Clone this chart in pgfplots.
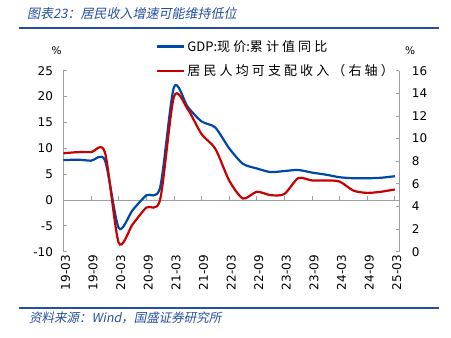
\documentclass[border=0pt]{standalone}
\usepackage{fontspec}
\setmainfont{DejaVu Sans}
\newfontfamily\cjk{Noto Sans CJK SC}
\newfontfamily\cjkit[FakeSlant=0.2]{Noto Sans CJK SC}
\newfontfamily\cjkls[LetterSpace=24]{Noto Sans CJK SC}
\usepackage{pgfplots}
\usepackage{pgfplotstable}
\pgfplotsset{compat=1.18}
\definecolor{gdpblue}{RGB}{0,72,168}
\definecolor{incred}{RGB}{200,0,0}
\definecolor{axgray}{RGB}{160,160,160}
\definecolor{hdblue}{RGB}{35,80,160}

\pgfplotstableread{
m gdp inc
0 7.7 8.7
3 7.8 8.8
6 7.6 8.8
9 7.7 8.8
12 -5.4 0.8
15 -2.0 2.4
18 0.9 3.9
21 2.4 4.6
24 21.8 13.7
27 18.0 12.6
30 15.2 10.4
33 14.0 9.1
36 10.0 6.3
39 7.0 4.7
42 6.1 5.3
45 5.4 5.0
48 5.6 5.1
51 5.8 6.5
54 5.3 6.3
57 4.9 6.3
60 4.4 6.2
63 4.2 5.4
66 4.2 5.2
69 4.3 5.3
72 4.6 5.5
}\data

\begin{document}
\begin{tikzpicture}[x=1pt,y=1pt]
\path[use as bounding box] (0,0) rectangle (451,338);
\node[anchor=west, text=hdblue, font=\cjkit\fontsize{13}{15}\selectfont, inner sep=0pt] at (27,324) {图表23：居民收入增速可能维持低位};
\draw[hdblue, line width=1.8pt] (19.3,310.3) -- (439.3,310.3);
\draw[hdblue, line width=1.8pt] (19.3,30) -- (439.3,30);
\node[anchor=west, text=hdblue, font=\cjkit\fontsize{12.5}{14}\selectfont, inner sep=0pt] at (29,20) {资料来源：Wind，国盛证券研究所};
\node[font=\fontsize{10.5}{12}\selectfont] at (56.7,287) {\%};
\node[font=\fontsize{10.5}{12}\selectfont] at (410,287) {\%};

\begin{axis}[
  at={(63.45pt,86.3pt)}, anchor=south west, scale only axis,
  width=336pt, height=181pt,
  xmin=0, xmax=73, ymin=-10, ymax=25,
  /pgf/number format/assume math mode=true,
  axis y line*=left, axis x line*=bottom,
  x axis line style={draw=none},
  y axis line style={draw=axgray, line width=0.8pt},
  xtick={0,6,...,72},
  xticklabels={19-03,19-09,20-03,20-09,21-03,21-09,22-03,22-09,23-03,23-09,24-03,24-09,25-03},
  xticklabel style={rotate=90, anchor=east, font=\fontsize{12}{14}\selectfont, yshift=-2pt},
  x tick style={draw=none},
  ytick={-10,-5,...,25},
  y tick style={draw=axgray, line width=0.8pt},
  tick align=inside, major tick length=3.5pt,
  yticklabel style={font=\fontsize{12}{14}\selectfont, xshift=-7pt},
  clip=false,
]
\draw[axgray, line width=0.8pt] (axis cs:0,0) -- (axis cs:73,0);
\pgfplotsinvokeforeach{6,12,...,72}{\draw[axgray, line width=0.8pt] (axis cs:#1,0) -- ++(0pt,4pt);}
\addplot[gdpblue, line width=2.2pt, smooth, tension=0.45] table[x=m,y=gdp]{\data};
\end{axis}

\begin{axis}[
  at={(63.45pt,86.3pt)}, anchor=south west, scale only axis,
  width=336pt, height=181pt,
  xmin=0, xmax=73, ymin=0, ymax=16,
  /pgf/number format/assume math mode=true,
  axis y line*=right, axis x line=none,
  y axis line style={draw=axgray, line width=0.8pt},
  ytick={0,2,...,16},
  y tick style={draw=axgray, line width=0.8pt},
  tick align=inside, major tick length=3.5pt,
  yticklabel style={font=\fontsize{12}{14}\selectfont, xshift=9pt},
  clip=false,
  legend style={at={(0.2755,1.18)}, anchor=north west, draw=none, fill=none,
    font=\cjkls\fontsize{13}{15}\selectfont, row sep=8pt, inner sep=0pt},
  legend cell align=left,
  legend image code/.code={\draw[#1, line width=2.2pt] (0pt,0pt) -- (27pt,0pt);},
]
\addlegendimage{gdpblue}
\addlegendentry{{\cjk GDP:}现价{\cjk :}累计值同比}
\addplot[incred, line width=2.2pt, smooth, tension=0.45] table[x=m,y=inc]{\data};
\addlegendentry{居民人均可支配收入（右轴）}
\end{axis}
\end{tikzpicture}
\end{document}
